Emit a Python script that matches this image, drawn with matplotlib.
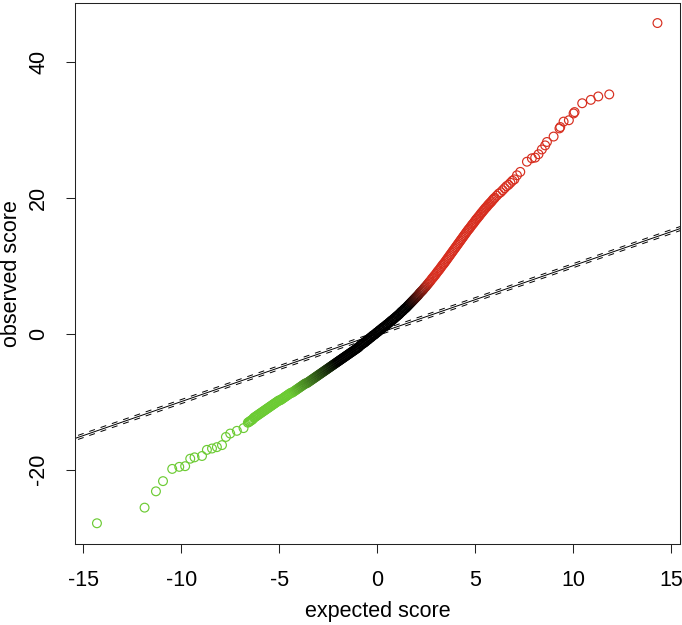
import numpy as np
import matplotlib
matplotlib.use("Agg")
from matplotlib import pyplot as plt
from matplotlib.colors import to_rgb

plt.rcParams['font.family'] = ['Liberation Sans', 'DejaVu Sans']
plt.rcParams['lines.scale_dashes'] = False
plt.rcParams['axes.unicode_minus'] = False

# sparse low tail (green)
low_expected = [-14.3, -11.87, -11.29, -10.93, -10.46, -10.1, -9.8, -9.54, -9.32,
                -8.94, -8.69, -8.43, -8.18, -7.92, -7.72, -7.5, -7.16, -6.82]
low_observed = [-27.9, -25.6, -23.2, -21.7, -19.9, -19.6, -19.5, -18.4, -18.2,
                -18.0, -17.1, -16.9, -16.7, -16.4, -15.2, -14.7, -14.3, -13.9]

# dense central band, read along the middle of the thick stroke
mid_expected = [
    -6.60, -6.55, -6.50, -6.45, -6.40, -6.35, -6.30, -6.25, -6.20, -6.15,
    -6.10, -6.05, -6.00, -5.95, -5.90, -5.85, -5.80, -5.75, -5.70, -5.65,
    -5.60, -5.55, -5.50, -5.45, -5.40, -5.35, -5.30, -5.25, -5.20, -5.15,
    -5.10, -5.05, -5.00, -4.95, -4.90, -4.85, -4.80, -4.75, -4.70, -4.65,
    -4.60, -4.55, -4.50, -4.45, -4.40, -4.35, -4.30, -4.25, -4.20, -4.15,
    -4.10, -4.05, -4.00, -3.95, -3.90, -3.85, -3.80, -3.75, -3.70, -3.65,
    -3.60, -3.55, -3.50, -3.45, -3.40, -3.35, -3.30, -3.25, -3.20, -3.15,
    -3.10, -3.05, -3.00, -2.95, -2.90, -2.85, -2.80, -2.75, -2.70, -2.65,
    -2.60, -2.55, -2.50, -2.45, -2.40, -2.35, -2.30, -2.25, -2.20, -2.15,
    -2.10, -2.05, -2.00, -1.95, -1.90, -1.85, -1.80, -1.75, -1.70, -1.65,
    -1.60, -1.55, -1.50, -1.45, -1.40, -1.35, -1.30, -1.25, -1.20, -1.15,
    -1.10, -1.05, -1.00, -0.95, -0.90, -0.85, -0.80, -0.75, -0.70, -0.65,
    -0.60, -0.55, -0.50, -0.45, -0.40, -0.35, -0.30, -0.25, -0.20, -0.15,
    -0.10, -0.05, 0.00, 0.05, 0.10, 0.15, 0.20, 0.25, 0.30, 0.35,
    0.40, 0.45, 0.50, 0.55, 0.60, 0.65, 0.70, 0.75, 0.80, 0.85,
    0.90, 0.95, 1.00, 1.05, 1.10, 1.15, 1.20, 1.25, 1.30, 1.35,
    1.40, 1.45, 1.50, 1.55, 1.60, 1.65, 1.70, 1.75, 1.80, 1.85,
    1.90, 1.95, 2.00, 2.05, 2.10, 2.15, 2.20, 2.25, 2.30, 2.35,
    2.40, 2.45, 2.50, 2.55, 2.60, 2.65, 2.70, 2.75, 2.80, 2.85,
    2.90, 2.95, 3.00, 3.05, 3.10, 3.15, 3.20, 3.25, 3.30, 3.35,
    3.40, 3.45, 3.50, 3.55, 3.60, 3.65, 3.70, 3.75, 3.80, 3.85,
    3.90, 3.95, 4.00, 4.05, 4.10, 4.15, 4.20, 4.25, 4.30, 4.35,
    4.40, 4.45, 4.50, 4.55, 4.60, 4.65, 4.70, 4.75, 4.80, 4.85,
    4.90, 4.95, 5.00, 5.05, 5.10, 5.15, 5.20, 5.25, 5.30, 5.35,
    5.40, 5.45, 5.50, 5.55, 5.60, 5.65, 5.70, 5.75, 5.80, 5.85,
    5.90, 5.95, 6.00, 6.10, 6.20, 6.30, 6.40, 6.50, 6.60, 6.70,
    6.80, 6.90, 7.00]
mid_observed = [
    -13.1, -13.0, -12.9, -12.8, -12.7, -12.6, -12.4, -12.3, -12.2, -12.1,
    -12.0, -11.9, -11.8, -11.7, -11.6, -11.5, -11.4, -11.3, -11.2, -11.1,
    -11.0, -10.9, -10.8, -10.7, -10.6, -10.5, -10.4, -10.3, -10.2, -10.1,
    -10.0, -9.9, -9.8, -9.8, -9.7, -9.6, -9.5, -9.4, -9.3, -9.2,
    -9.1, -9.0, -8.9, -8.8, -8.7, -8.7, -8.6, -8.5, -8.4, -8.3,
    -8.2, -8.1, -8.0, -7.9, -7.8, -7.7, -7.6, -7.5, -7.4, -7.3,
    -7.3, -7.2, -7.1, -7.0, -6.9, -6.8, -6.7, -6.6, -6.5, -6.4,
    -6.3, -6.2, -6.1, -6.0, -5.9, -5.8, -5.7, -5.6, -5.5, -5.4,
    -5.3, -5.2, -5.1, -5.0, -4.9, -4.8, -4.7, -4.6, -4.5, -4.4,
    -4.3, -4.2, -4.1, -4.0, -3.9, -3.8, -3.7, -3.6, -3.5, -3.4,
    -3.3, -3.2, -3.1, -3.0, -2.9, -2.8, -2.7, -2.6, -2.5, -2.4,
    -2.3, -2.2, -2.1, -2.0, -1.85, -1.7, -1.6, -1.5, -1.4, -1.3,
    -1.2, -1.05, -0.95, -0.85, -0.7, -0.6, -0.5, -0.35, -0.25, -0.15,
    -0.05, 0.1, 0.2, 0.3, 0.45, 0.55, 0.65, 0.8, 0.9, 1.0,
    1.1, 1.25, 1.35, 1.45, 1.6, 1.7, 1.85, 1.95, 2.05, 2.2,
    2.3, 2.45, 2.55, 2.7, 2.8, 2.95, 3.1, 3.25, 3.35, 3.5,
    3.65, 3.75, 3.9, 4.05, 4.2, 4.35, 4.5, 4.65, 4.8, 4.95,
    5.1, 5.25, 5.4, 5.55, 5.7, 5.9, 6.05, 6.2, 6.35, 6.5,
    6.7, 6.85, 7.0, 7.2, 7.35, 7.55, 7.7, 7.9, 8.1, 8.25,
    8.45, 8.6, 8.8, 9.0, 9.2, 9.35, 9.55, 9.75, 9.95, 10.15,
    10.3, 10.5, 10.7, 10.9, 11.1, 11.3, 11.5, 11.7, 11.9, 12.1,
    12.3, 12.5, 12.7, 12.9, 13.1, 13.3, 13.5, 13.7, 13.9, 14.1,
    14.3, 14.5, 14.7, 14.9, 15.1, 15.3, 15.45, 15.65, 15.85, 16.05,
    16.2, 16.4, 16.6, 16.8, 16.95, 17.15, 17.3, 17.5, 17.7, 17.85,
    18.05, 18.2, 18.4, 18.55, 18.7, 18.9, 19.05, 19.2, 19.35, 19.5,
    19.7, 19.85, 20.0, 20.3, 20.6, 20.8, 21.1, 21.4, 21.7, 21.9,
    22.2, 22.5, 22.7]

# sparse high tail (red)
high_expected = [7.13, 7.3, 7.64, 7.89, 8.06, 8.23, 8.4, 8.57, 8.66, 9.0, 9.3,
                 9.34, 9.51, 9.78, 10.02, 10.07, 10.46, 10.9, 11.28, 11.84, 14.3]
high_observed = [23.3, 23.8, 25.3, 25.8, 25.9, 26.4, 27.1, 27.7, 28.2, 29.0, 30.2,
                 30.4, 31.2, 31.4, 32.4, 32.6, 33.9, 34.4, 34.9, 35.2, 45.7]

delta = 0.3

expected = np.array(low_expected + mid_expected + high_expected)
observed = np.array(low_observed + mid_observed + high_observed)

red = np.array(to_rgb('#d72e1f'))
green = np.array(to_rgb('#6ccb33'))

# black in the middle, fading into red / green where overlapping circles mix
t_up = np.clip((observed - 4.3) / (8.0 - 4.3), 0, 1)
t_lo = np.clip((-observed - 4.0) / (8.6 - 4.0), 0, 1)
cols = t_up[:, None] * red + t_lo[:, None] * green

fig = plt.figure(figsize=(6.82, 6.25), dpi=100)
ax = fig.add_axes([75/682, 1-544/625, 605/682, 541/625])

ax.scatter(expected, observed, s=40, facecolors='none', edgecolors=cols, linewidths=0.85, zorder=3)

xx = np.array([-20, 20])
ax.plot(xx, xx, color='black', lw=0.7, zorder=2)
ax.plot(xx, xx + delta, color='black', lw=0.7, linestyle=(0, (4.3, 4.3)), zorder=2)
ax.plot(xx, xx - delta, color='black', lw=0.7, linestyle=(0, (4.3, 4.3)), zorder=2)

ax.set_xlim(-15.42, 15.45)
ax.set_ylim(-30.95, 48.65)
ax.set_xticks([-15, -10, -5, 0, 5, 10, 15])
ax.set_yticks([-20, 0, 20, 40])
ax.tick_params(direction='out', length=6.5, width=0.75, labelsize=15.5, pad=12, color='#222222')
for lab in ax.get_yticklabels():
    lab.set_rotation(90)
    lab.set_va('center')
for sp in ax.spines.values():
    sp.set_linewidth(0.75)
    sp.set_color('#222222')

ax.set_xlabel('expected score', fontsize=15.5, va='center')
ax.set_ylabel('observed score', fontsize=15.5, va='center')
ax.xaxis.set_label_coords(0.5, -67/541)
ax.yaxis.set_label_coords(-63/605, 0.5)

fig.savefig('out.png', dpi=100)
